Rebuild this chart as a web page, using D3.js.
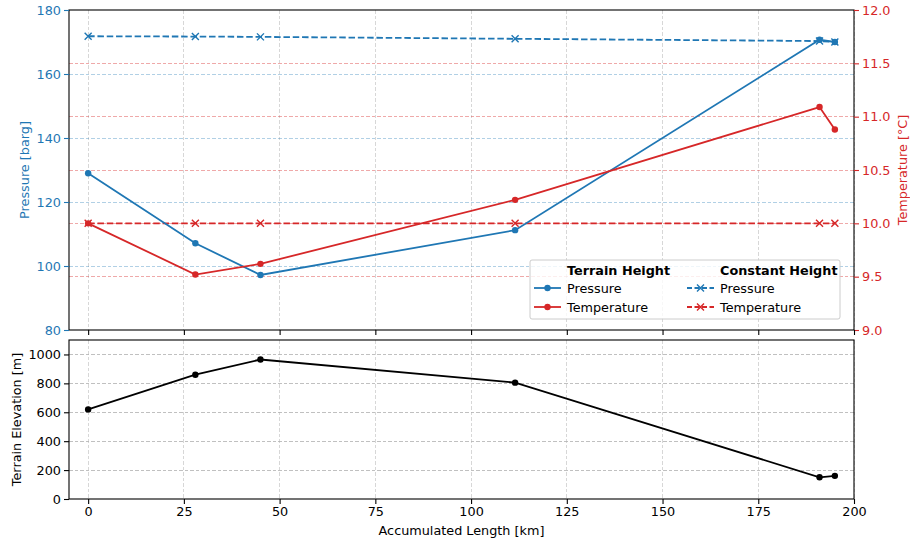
<!DOCTYPE html>
<html lang="en">
<head>
<meta charset="UTF-8">
<title>Pressure and Temperature along Pipeline</title>
<style>
    body { margin: 0; background: #fff; }
    svg { font-family: "DejaVu Sans", sans-serif; }
    .grid line { shape-rendering: crispEdges; }
</style>
</head>
<body>
<div id="chart"></div>
<script src="https://d3js.org/d3.v7.min.js"></script>
<script>
    // Data
    const lengthKm = [0, 28, 45, 111.5, 191, 195];
    const pressureTerrain = [129.0, 107.1, 97.2, 111.2, 170.7, 170.0];
    const pressureConstant = [171.8, 171.7, 171.6, 171.0, 170.3, 170.0];
    const tempTerrain = [10.0, 9.52, 9.62, 10.22, 11.09, 10.88];
    const tempConstant = [10.0, 10.0, 10.0, 10.0, 10.0, 10.0];
    const elevation = [620, 860, 965, 805, 150, 160];

    const xTicks = [0, 25, 50, 75, 100, 125, 150, 175, 200];
    const pressureTicks = [80, 100, 120, 140, 160, 180];
    const tempTicks = [9.0, 9.5, 10.0, 10.5, 11.0, 11.5, 12.0];
    const elevTicks = [0, 200, 400, 600, 800, 1000];

    const blue = "#1f77b4", red = "#d62728";
    const fs = 12.8;
    const lw = 1.8;
    const dash = "6.5,2.8";

    const W = 910, H = 539;
    const left = 69, right = 854;
    const top1 = 10, bot1 = 330;
    const top2 = 340, bot2 = 499;

    const svg = d3.select("#chart").append("svg")
        .attr("width", W).attr("height", H);

    const x = d3.scaleLinear().domain([-5, 200]).range([left, right]);
    const yP = d3.scaleLinear().domain([80, 180]).range([bot1, top1]);
    const yT = d3.scaleLinear().domain([9, 12]).range([bot1, top1]);
    const yE = d3.scaleLinear().domain([0, 1100]).range([bot2, top2]);

    // ---- grids ----
    function vGrid(y0, y1) {
        svg.append("g").attr("class", "grid")
            .selectAll("line").data(xTicks).enter().append("line")
            .attr("x1", d => x(d)).attr("x2", d => x(d))
            .attr("y1", y0).attr("y2", y1)
            .attr("stroke", "#b0b0b0").attr("stroke-opacity", 0.5)
            .attr("stroke-width", 1).attr("stroke-dasharray", "3.5,2");
    }
    vGrid(top1, bot1);
    vGrid(top2, bot2);

    svg.append("g").attr("class", "grid")
        .selectAll("line").data(pressureTicks.slice(1, -1)).enter().append("line")
        .attr("x1", left).attr("x2", right)
        .attr("y1", d => yP(d)).attr("y2", d => yP(d))
        .attr("stroke", blue).attr("stroke-opacity", 0.35)
        .attr("stroke-width", 1).attr("stroke-dasharray", "3.5,2");

    svg.append("g").attr("class", "grid")
        .selectAll("line").data(tempTicks.slice(1, -1)).enter().append("line")
        .attr("x1", left).attr("x2", right)
        .attr("y1", d => yT(d)).attr("y2", d => yT(d))
        .attr("stroke", red).attr("stroke-opacity", 0.4)
        .attr("stroke-width", 1).attr("stroke-dasharray", "3.5,2");

    svg.append("g").attr("class", "grid")
        .selectAll("line").data(elevTicks.slice(1)).enter().append("line")
        .attr("x1", left).attr("x2", right)
        .attr("y1", d => yE(d)).attr("y2", d => yE(d))
        .attr("stroke", "#b0b0b0").attr("stroke-opacity", 0.8)
        .attr("stroke-width", 1).attr("stroke-dasharray", "3.5,2");

    // ---- series helpers ----
    function xMark(g, cx, cy, color) {
        const s = 3.5;
        g.append("path")
            .attr("d", `M${cx-s},${cy-s}L${cx+s},${cy+s}M${cx-s},${cy+s}L${cx+s},${cy-s}`)
            .attr("stroke", color).attr("stroke-width", 1.4).attr("fill", "none");
    }

    function drawSeries(xs, ys, yScale, color, dashed, marker) {
        const pts = xs.map((v, i) => [x(v), yScale(ys[i])]);
        svg.append("path")
            .attr("d", d3.line()(pts))
            .attr("fill", "none").attr("stroke", color)
            .attr("stroke-width", lw)
            .attr("stroke-dasharray", dashed ? dash : null);
        const g = svg.append("g");
        pts.forEach(p => {
            if (marker === "x") xMark(g, p[0], p[1], color);
            else g.append("circle").attr("cx", p[0]).attr("cy", p[1]).attr("r", 3.2).attr("fill", color);
        });
    }

    drawSeries(lengthKm, pressureConstant, yP, blue, true, "x");
    drawSeries(lengthKm, tempConstant, yT, red, true, "x");
    drawSeries(lengthKm, pressureTerrain, yP, blue, false, "o");
    drawSeries(lengthKm, tempTerrain, yT, red, false, "o");
    drawSeries(lengthKm, elevation, yE, "black", false, "o");

    // ---- frames ----
    [[top1, bot1], [top2, bot2]].forEach(([a, b]) => {
        svg.append("rect").attr("x", left).attr("y", a)
            .attr("width", right - left).attr("height", b - a)
            .attr("fill", "none").attr("stroke", "black").attr("stroke-width", 1.1);
    });

    // ---- axes ----
    function styleAxis(g, color) {
        g.select(".domain").remove();
        g.selectAll(".tick line").attr("stroke", color).attr("stroke-width", 1.1);
        g.selectAll(".tick text").attr("fill", color).attr("font-size", fs)
            .attr("font-family", "DejaVu Sans, sans-serif");
    }

    const axP = svg.append("g").attr("transform", `translate(${left},0)`)
        .call(d3.axisLeft(yP).tickValues(pressureTicks).tickSize(5).tickPadding(3).tickFormat(d3.format("d")));
    styleAxis(axP, blue);

    const axT = svg.append("g").attr("transform", `translate(${right},0)`)
        .call(d3.axisRight(yT).tickValues(tempTicks).tickSize(5).tickPadding(3).tickFormat(d3.format(".1f")));
    styleAxis(axT, red);

    const axX1 = svg.append("g").attr("transform", `translate(0,${bot1})`)
        .call(d3.axisBottom(x).tickValues(xTicks).tickSize(5).tickFormat(""));
    styleAxis(axX1, "black");

    const axE = svg.append("g").attr("transform", `translate(${left},0)`)
        .call(d3.axisLeft(yE).tickValues(elevTicks).tickSize(5).tickPadding(3).tickFormat(d3.format("d")));
    styleAxis(axE, "black");

    const axX2 = svg.append("g").attr("transform", `translate(0,${bot2})`)
        .call(d3.axisBottom(x).tickValues(xTicks).tickSize(5).tickPadding(3).tickFormat(d3.format("d")));
    styleAxis(axX2, "black");

    // ---- axis labels ----
    svg.append("text")
        .attr("transform", `translate(29,${(top1 + bot1) / 2}) rotate(-90)`)
        .attr("text-anchor", "middle").attr("font-size", fs).attr("fill", blue)
        .text("Pressure [barg]");

    svg.append("text")
        .attr("transform", `translate(907,${(top1 + bot1) / 2}) rotate(-90)`)
        .attr("text-anchor", "middle").attr("font-size", fs).attr("fill", red)
        .text("Temperature [°C]");

    svg.append("text")
        .attr("transform", `translate(21,${(top2 + bot2) / 2}) rotate(-90)`)
        .attr("text-anchor", "middle").attr("font-size", fs).attr("fill", "black")
        .text("Terrain Elevation [m]");

    svg.append("text")
        .attr("x", (left + right) / 2).attr("y", 535)
        .attr("text-anchor", "middle").attr("font-size", fs).attr("fill", "black")
        .text("Accumulated Length [km]");

    // ---- legend ----
    const lg = svg.append("g").attr("transform", "translate(530,260)");
    lg.append("rect").attr("width", 310).attr("height", 59).attr("rx", 2)
        .attr("fill", "white").attr("fill-opacity", 0.8)
        .attr("stroke", "#cccccc").attr("stroke-width", 1);

    const legendCols = [
        { title: "Terrain Height", x0: 4, dashed: false, marker: "o" },
        { title: "Constant Height", x0: 157, dashed: true, marker: "x" }
    ];
    const legendRows = [
        { name: "Pressure", color: blue },
        { name: "Temperature", color: red }
    ];

    legendCols.forEach(c => {
        lg.append("text").attr("x", c.x0 + 33).attr("y", 14.5)
            .attr("font-size", fs).attr("font-weight", "bold").text(c.title);
        legendRows.forEach((r, i) => {
            const yy = 28 + i * 19;
            lg.append("line").attr("x1", c.x0).attr("x2", c.x0 + 27)
                .attr("y1", yy).attr("y2", yy)
                .attr("stroke", r.color).attr("stroke-width", lw)
                .attr("stroke-dasharray", c.dashed ? "5,2.5" : null);
            const mx = c.x0 + 13.5;
            if (c.marker === "x") xMark(lg, mx, yy, r.color);
            else lg.append("circle").attr("cx", mx).attr("cy", yy).attr("r", 3.2).attr("fill", r.color);
            lg.append("text").attr("x", c.x0 + 33).attr("y", yy + 4.5)
                .attr("font-size", fs).text(r.name);
        });
    });
</script>
</body>
</html>
